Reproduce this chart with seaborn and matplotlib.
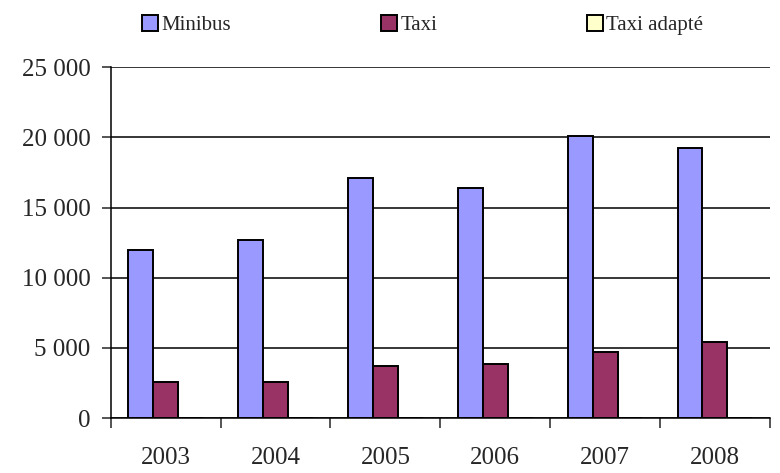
import pandas as pd
import seaborn as sns
import matplotlib.pyplot as plt
from matplotlib.ticker import FuncFormatter, FixedLocator
from matplotlib.patches import Patch

# Données
years = ['2003', '2004', '2005', '2006', '2007', '2008']
minibus = [11970, 12680, 17110, 16400, 20090, 19250]
taxi = [2540, 2540, 3700, 3850, 4680, 5390]
taxi_adapte = [0, 0, 0, 0, 0, 0]
series = ['Minibus', 'Taxi', 'Taxi adapté']
colors = ['#9999FF', '#993366', '#FFFFCC']

df = pd.DataFrame({
    'Année': years * 3,
    'Valeur': minibus + taxi + taxi_adapte,
    'Série': [s for s in series for _ in years],
})

sns.set_style('white')
plt.rcParams['font.family'] = ['Liberation Serif', 'DejaVu Serif']

fig = plt.figure(figsize=(7.8, 4.73), dpi=100)
ax = fig.add_axes([0.142, 0.116, 0.845, 0.742])

sns.barplot(data=df, x='Année', y='Valeur', hue='Série', palette=colors, saturation=1,
            width=0.68, edgecolor='black', linewidth=1.4, ax=ax, legend=False)

ax.set_ylim(0, 25000)
ax.set_xlim(-0.5, 5.5)
ax.set_yticks(range(0, 25001, 5000))
ax.yaxis.set_major_formatter(FuncFormatter(lambda v, p: f"{int(v):,}".replace(',', ' ')))
ax.grid(axis='y', color='black', linewidth=1.1)
ax.set_axisbelow(True)

for s in ['top', 'right']:
    ax.spines[s].set_visible(False)
for s in ['left', 'bottom']:
    ax.spines[s].set_color('black')
    ax.spines[s].set_linewidth(1.1)

ax.tick_params(axis='y', which='major', left=True, length=6.5, width=1.1, labelsize=18, pad=8)
ax.tick_params(axis='x', which='major', bottom=False, labelsize=18, pad=17)
ax.xaxis.set_minor_locator(FixedLocator([i - 0.5 for i in range(len(years) + 1)]))
ax.tick_params(axis='x', which='minor', bottom=True, length=7, width=1.1)
ax.set_xlabel('')
ax.set_ylabel('')

handles = [Patch(facecolor=c, edgecolor='black', linewidth=1.4) for c in colors]
fig.legend(handles, series, loc='center', bbox_to_anchor=(0.542, 1 - 25 / 473), ncol=3,
           frameon=False, fontsize=15, columnspacing=7.2, handlelength=0.77,
           handleheight=0.77, handletextpad=0.15)

fig.savefig('out.png', dpi=100)
